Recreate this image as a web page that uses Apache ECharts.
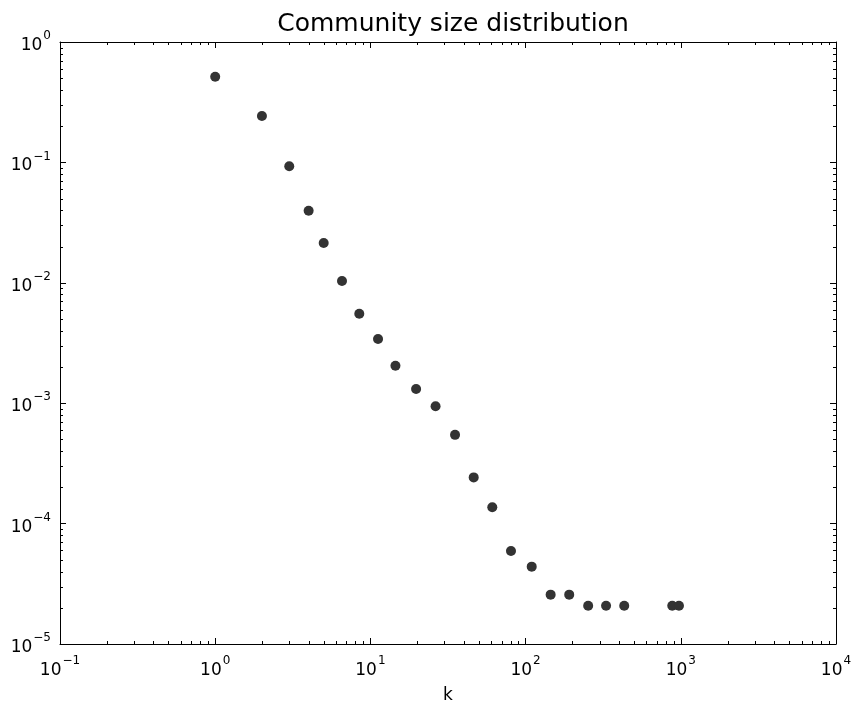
<!DOCTYPE html>
<html>
<head>
<meta charset="utf-8">
<script src="https://cdn.jsdelivr.net/npm/echarts@6/dist/echarts.min.js"></script>
<style>
  html, body { margin: 0; padding: 0; background: #fff; }
  #chart { width: 854px; height: 704px; }
</style>
</head>
<body>
<div id="chart"></div>
<script>
// Community sizes k and their relative frequency P(k)
const kValues = [1, 2, 3, 4, 5, 6.56, 8.48, 11.2, 14.5, 19.7, 26.3, 35.1, 46.3, 61.0, 80.5,
                 109.5, 145, 191, 253, 330, 432, 881, 973];
const pValues = [0.515, 0.243, 0.0928, 0.0396, 0.0214, 0.01035, 0.00554, 0.00341, 0.00205,
                 0.00131, 0.000942, 0.000546, 0.000242, 0.0001366, 5.92e-5, 4.39e-5,
                 2.57e-5, 2.57e-5, 2.08e-5, 2.08e-5, 2.08e-5, 2.08e-5, 2.08e-5];

// Axis ranges (decades)
const xRange = [0.1, 10000];
const yRange = [1e-5, 1];
// Minor tick multiples within each decade
const minorMultiples = [2, 3, 4, 5, 6, 7, 8, 9];

const FONT = 'DejaVu Sans';

// Tick labels as powers of ten with a superscript exponent (true minus sign)
function powLabel(v) {
  const e = Math.round(Math.log10(v));
  return '{b|10}{s|' + String(e).replace('-', '\u2212') + '}';
}
const richLabel = {
  b: { fontFamily: FONT, fontSize: 17, color: '#000', lineHeight: 24, verticalAlign: 'bottom' },
  s: { fontFamily: FONT, fontSize: 12, color: '#000', lineHeight: 24, verticalAlign: 'top', padding: [0, 0, 0, 1] }
};

function logAxis(range, extra) {
  return Object.assign({
    type: 'log',
    logBase: 10,
    min: range[0],
    max: range[1],
    splitLine: { show: false },
    axisLine: { show: true, onZero: false, lineStyle: { color: '#000', width: 1 } },
    axisTick: { show: true, inside: true, length: 6, lineStyle: { color: '#000', width: 1 } },
    minorTick: { show: false }
  }, extra);
}

const chart = echarts.init(document.getElementById('chart'), null, { renderer: 'canvas' });

const option = {
  animation: false,
  backgroundColor: '#fff',
  title: {
    text: 'Community size distribution',
    left: 448,
    textAlign: 'center',
    top: 7,
    textStyle: { fontFamily: FONT, fontSize: 25, fontWeight: 'normal', color: '#000' }
  },
  grid: { left: 60, right: 18, top: 42, bottom: 60, containLabel: false, outerBoundsMode: 'none' },
  xAxis: [
    logAxis(xRange, {
      position: 'bottom',
      name: 'k',
      nameLocation: 'middle',
      nameGap: 43,
      nameTextStyle: { fontFamily: FONT, fontSize: 17, color: '#000' },
      axisLabel: { show: true, margin: 11, formatter: powLabel, rich: richLabel }
    }),
    logAxis(xRange, { position: 'top', axisLabel: { show: false } })
  ],
  yAxis: [
    logAxis(yRange, {
      position: 'left',
      axisLabel: { show: true, margin: 9, formatter: powLabel, rich: richLabel }
    }),
    logAxis(yRange, { position: 'right', axisLabel: { show: false } })
  ],
  series: [{
    type: 'scatter',
    xAxisIndex: 0,
    yAxisIndex: 0,
    symbol: 'circle',
    symbolSize: 10,
    itemStyle: { color: '#333333', opacity: 1 },
    data: kValues.map((k, i) => [k, pValues[i]])
  }]
};
chart.setOption(option);

// Minor ticks at 2..9 x 10^n on all four sides, placed through the axes' own scales
function drawMinorTicks() {
  const els = [];
  const len = 3;
  const bottomY = chart.convertToPixel({ yAxisIndex: 0 }, yRange[0]);
  const topY = chart.convertToPixel({ yAxisIndex: 0 }, yRange[1]);
  const leftX = chart.convertToPixel({ xAxisIndex: 0 }, xRange[0]);
  const rightX = chart.convertToPixel({ xAxisIndex: 0 }, xRange[1]);
  const style = { stroke: '#000', lineWidth: 1 };
  for (let e = Math.log10(xRange[0]); e < Math.log10(xRange[1]); e++) {
    minorMultiples.forEach(m => {
      const x = Math.round(chart.convertToPixel({ xAxisIndex: 0 }, m * Math.pow(10, e))) + 0.5;
      els.push({ type: 'line', silent: true, shape: { x1: x, y1: bottomY, x2: x, y2: bottomY - len }, style });
      els.push({ type: 'line', silent: true, shape: { x1: x, y1: topY, x2: x, y2: topY + len }, style });
    });
  }
  for (let e = Math.log10(yRange[0]); e < Math.log10(yRange[1]); e++) {
    minorMultiples.forEach(m => {
      const y = Math.round(chart.convertToPixel({ yAxisIndex: 0 }, m * Math.pow(10, e))) + 0.5;
      els.push({ type: 'line', silent: true, shape: { x1: leftX, y1: y, x2: leftX + len, y2: y }, style });
      els.push({ type: 'line', silent: true, shape: { x1: rightX, y1: y, x2: rightX - len, y2: y }, style });
    });
  }
  chart.setOption({ graphic: { elements: els } });
}
drawMinorTicks();
</script>
</body>
</html>
